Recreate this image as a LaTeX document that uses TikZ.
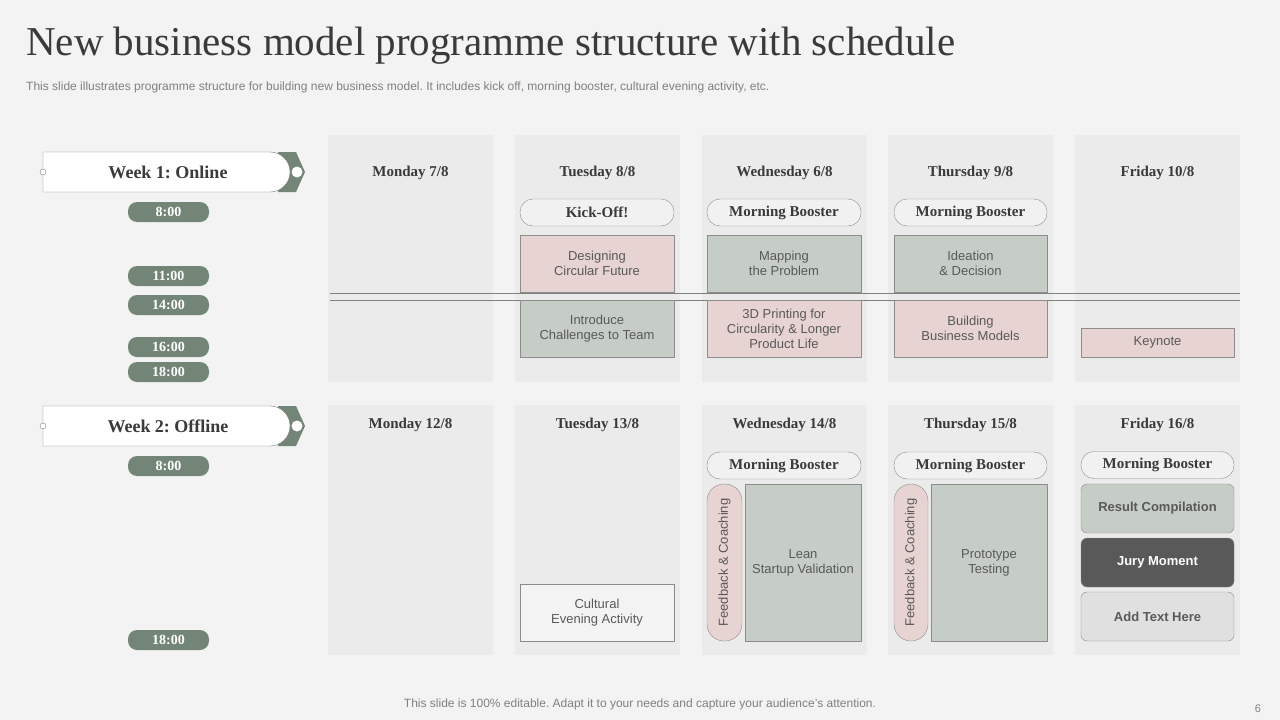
\documentclass[tikz,border=0pt]{standalone}
\usepackage{fontspec}
\setmainfont{Liberation Serif}
\setsansfont{Liberation Sans}
\usetikzlibrary{positioning}
\frenchspacing
\definecolor{pagebg}{HTML}{F3F3F3}
\definecolor{colbg}{HTML}{EAEBEA}
\definecolor{sage}{HTML}{728577}
\definecolor{sagebox}{HTML}{C6CDC7}
\definecolor{rosebox}{HTML}{E8D3D3}
\definecolor{ink}{HTML}{3A3A3A}
\definecolor{boxink}{HTML}{595959}
\tikzset{
    x=1pt, y=-1pt,
    daycol/.style={fill=colbg, draw=none}, % background of one day
    dayhead/.style={font=\fontsize{15}{17}\selectfont\bfseries, text=ink},
    timepill/.style={fill=sage, rounded corners=9pt, minimum width=81pt, minimum height=20pt, text=white, font=\fontsize{14}{16}\selectfont\bfseries},
    slot/.style={draw=gray!90, font=\sffamily\fontsize{13}{15}\selectfont, text=boxink, align=center, inner sep=0pt},
    booster/.style={slot, fill=colbg!70!white, rounded corners=13pt, font=\fontsize{15}{17}\selectfont\bfseries, text=ink},
}
\begin{document}
\begin{tikzpicture}
    \fill[pagebg] (0,0) rectangle (1280,720);
    \useasboundingbox (0,0) rectangle (1280,720);

    % title
    \node[anchor=west, font=\fontsize{41}{44}\selectfont, text=ink, inner sep=0pt] (title) at (26,46) {New business model programme structure with schedule};
    \node[anchor=west, font=\sffamily\fontsize{12}{14}\selectfont, text=gray, inner sep=0pt] (sub) at (26,87) {This slide illustrates programme structure for building new business model. It includes kick off, morning booster, cultural evening activity, etc.};

    % day columns
    \foreach \x/\d/\e in {328/Monday 7\slash 8/Monday 12\slash 8, 515/Tuesday 8\slash 8/Tuesday 13\slash 8, 702/Wednesday 6\slash 8/Wednesday 14\slash 8, 888/Thursday 9\slash 8/Thursday 15\slash 8, 1075/Friday 10\slash 8/Friday 16\slash 8} {
        \fill[daycol] (\x,135) rectangle ++(165,247);
        \fill[daycol] (\x,405) rectangle ++(165,250);
        \node[dayhead] at (\x+82.5,173) {\d};
        \node[dayhead] at (\x+82.5,425) {\e};
    }

    % week tabs
    \foreach \y/\w in {172/Week 1: Online, 426/Week 2: Offline} {
        \fill[sage] (278,\y-20) -- (296,\y-20) -- (305,\y) -- (296,\y+20) -- (278,\y+20) -- cycle;
        \draw[gray, fill=white] (43,\y-20) -- (270,\y-20) arc (-90:90:20) -- (43,\y+20) -- cycle;
        \fill[white] (297,\y) circle (5.5);
        \draw[gray, fill=white] (43,\y) circle (3);
        \node[font=\fontsize{18}{20}\selectfont\bfseries, text=ink] at (168,\y) {\w};
    }

    % times
    \foreach \y/\t in {212/8:00, 276/11:00, 305/14:00, 347/16:00, 372/18:00, 466/8:00, 640/18:00}
        \node[timepill] at (168.5,\y) {\t};

    % divider
    \draw[gray] (330,293) -- (1240,293);
    \draw[gray] (330,300) -- (1240,300);

    % week 1
    \node[booster, minimum width=154pt, minimum height=27pt] (kick) at (597,212.5) {Kick-Off!};
    \node[booster, minimum width=154pt, minimum height=27pt] (mb1) at (784,212.5) {Morning Booster};
    \node[booster, minimum width=153pt, minimum height=27pt] (mb2) at (970.5,212.5) {Morning Booster};
    \node[slot, fill=rosebox, minimum width=154pt, minimum height=57pt] (design) at (597,263.5) {Designing\\Circular Future};
    \node[slot, fill=sagebox, minimum width=154pt, minimum height=57pt] (intro) at (597,328.5) {Introduce\\Challenges to Team};
    \node[slot, fill=sagebox, minimum width=154pt, minimum height=57pt] (mapping) at (784,263.5) {Mapping\\the Problem};
    \node[slot, fill=rosebox, minimum width=154pt, minimum height=57pt] (print) at (784,328.5) {3D Printing for\\Circularity \& Longer\\Product Life};
    \node[slot, fill=sagebox, minimum width=153pt, minimum height=57pt] (idea) at (970.5,263.5) {Ideation\\\& Decision};
    \node[slot, fill=rosebox, minimum width=153pt, minimum height=57pt] (build) at (970.5,328.5) {Building\\Business  Models};
    \node[slot, fill=rosebox, minimum width=153pt, minimum height=29pt] (keynote) at (1157.5,342.5) {Keynote};

    % week 2
    \node[slot, fill=colbg!60!white, minimum width=154pt, minimum height=57pt] (cultural) at (597,612.5) {Cultural\\Evening Activity};
    \node[booster, minimum width=154pt, minimum height=27pt] (mb3) at (784,465.5) {Morning Booster};
    \node[booster, minimum width=153pt, minimum height=27pt] (mb4) at (970.5,465.5) {Morning Booster};
    \node[booster, minimum width=153pt, minimum height=27pt] (mb5) at (1157.5,465) {Morning Booster};
    \node[slot, fill=rosebox, rounded corners=17pt, minimum width=35pt, minimum height=157pt] (fb1) at (724.5,562.5) {};
    \node[font=\sffamily\fontsize{13}{15}\selectfont, text=boxink, rotate=90] at (fb1) {Feedback \& Coaching};
    \node[slot, fill=sagebox, minimum width=116pt, minimum height=157pt] (lean) at (803,562.5) {Lean\\Startup Validation};
    \node[slot, fill=rosebox, rounded corners=17pt, minimum width=34pt, minimum height=157pt] (fb2) at (911,562.5) {};
    \node[font=\sffamily\fontsize{13}{15}\selectfont, text=boxink, rotate=90] at (fb2) {Feedback \& Coaching};
    \node[slot, fill=sagebox, minimum width=116pt, minimum height=157pt] (proto) at (989,562.5) {Prototype\\Testing};
    \node[slot, fill=sagebox, rounded corners=6pt, minimum width=153pt, minimum height=49pt, font=\sffamily\bfseries\fontsize{13}{15}\selectfont] (result) at (1157.5,508.5) {Result Compilation};
    \node[slot, fill=black!65, rounded corners=6pt, minimum width=153pt, minimum height=49pt, text=white, font=\sffamily\bfseries\fontsize{13}{15}\selectfont] (jury) at (1157.5,562.5) {Jury Moment};
    \node[slot, fill=black!12, rounded corners=6pt, minimum width=153pt, minimum height=49pt, font=\sffamily\bfseries\fontsize{13}{15}\selectfont] (addtext) at (1157.5,616.5) {Add Text Here};

    % footer
    \node[font=\sffamily\fontsize{12}{14}\selectfont, text=gray] (foot) at (640,704) {This slide is 100\% editable. Adapt it to your needs and capture your audience’s attention.};
    \node[font=\sffamily\fontsize{11}{13}\selectfont, text=gray] (pagenum) at (1258,709) {6};
\end{tikzpicture}
\end{document}
